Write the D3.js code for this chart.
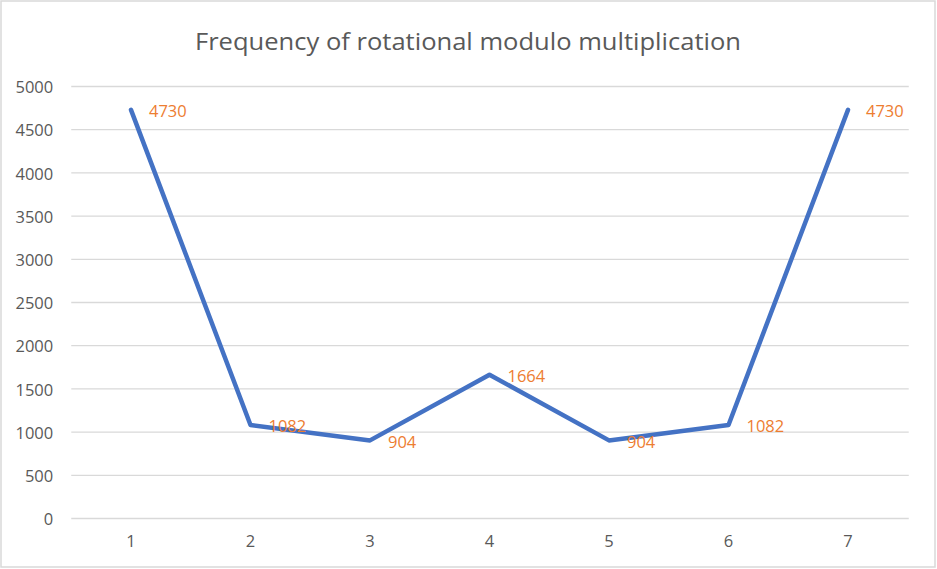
<!DOCTYPE html>
<html><head><meta charset="utf-8">
<script src="https://cdn.jsdelivr.net/npm/d3@7"></script>
<style>body{margin:0;background:#fff}svg{display:block}text{font-family:"Open Sans",sans-serif}</style>
</head><body><svg id="c" width="937" height="569"></svg>
<script>
const categories = ["1","2","3","4","5","6","7"];
const values = [4730, 1082, 904, 1664, 904, 1082, 4730];
const yTicks = [0,500,1000,1500,2000,2500,3000,3500,4000,4500,5000];
const title = "Frequency of rotational modulo multiplication";

const svg = d3.select("#c");
const W = 937, H = 569;
const m = {left:71.25, right:937-907.75, top:86.5, bottom:569-518.5};

svg.append("rect").attr("x",1).attr("y",1).attr("width",W-3).attr("height",H-3)
  .attr("fill","#fff").attr("stroke","#d9d9d9").attr("stroke-width",1.5);

const x = d3.scaleBand().domain(categories).range([m.left, W-m.right]);
const y = d3.scaleLinear().domain([0,5000]).range([H-m.bottom, m.top]);

svg.append("g").selectAll("line").data(yTicks).join("line")
  .attr("x1", m.left).attr("x2", W-m.right+1)
  .attr("y1", d=>y(d)).attr("y2", d=>y(d))
  .attr("stroke","#d9d9d9").attr("stroke-width",1.3);

const yAxis = d3.axisLeft(y).tickValues(yTicks).tickSize(0).tickPadding(18).tickFormat(d3.format("d"));
const ga = svg.append("g").attr("transform",`translate(${m.left},1)`).call(yAxis);
ga.select(".domain").remove();
ga.selectAll("text").attr("font-size",16.5).attr("fill","#595959").attr("font-family","'Open Sans',sans-serif");

const xAxis = d3.axisBottom(x).tickSize(0).tickPadding(17);
const gx = svg.append("g").attr("transform",`translate(0,${H-m.bottom})`).call(xAxis);
gx.select(".domain").remove();
gx.selectAll("text").attr("font-size",16.5).attr("fill","#595959").attr("font-family","'Open Sans',sans-serif");

svg.append("text").attr("x",468).attr("y",50).attr("text-anchor","middle")
  .attr("font-size",23).attr("fill","#595959").text(title)
  .attr("textLength",546).attr("lengthAdjust","spacingAndGlyphs");

const cx = d => x(d) + x.bandwidth()/2;
const line = d3.line().x((d,i)=>cx(categories[i])).y(d=>y(d));
svg.append("path").datum(values).attr("d",line).attr("fill","none")
  .attr("stroke","#4472C4").attr("stroke-width",4.5)
  .attr("stroke-linejoin","round").attr("stroke-linecap","round");

svg.append("g").selectAll("text").data(values).join("text")
  .attr("x",(d,i)=>cx(categories[i])+18).attr("y",d=>y(d)+3)
  .attr("dominant-baseline","middle").attr("font-size",16.5).attr("fill","#ED7D31")
  .text(d=>d);
</script></body></html>
